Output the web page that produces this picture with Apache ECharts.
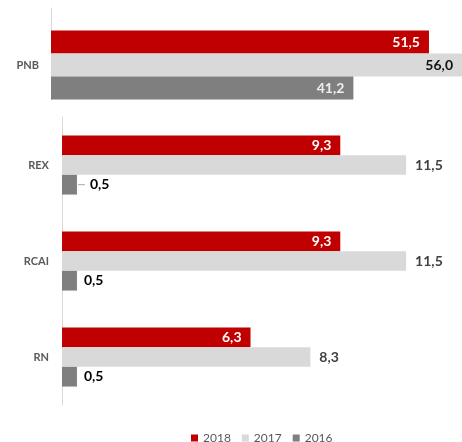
<!DOCTYPE html>
<html>
<head>
<meta charset="utf-8">
<script src="https://cdn.jsdelivr.net/npm/echarts@6/dist/echarts.min.js"></script>
<style>
html,body{margin:0;padding:0;background:#fff;}
#chart{width:462px;height:442px;}
</style>
</head>
<body>
<div id="chart"></div>
<script>
var years = ['2018', '2017', '2016'];
var topCategories = ['PNB'];
var topValues2018 = [51.5];
var topValues2017 = [56.0];
var topValues2016 = [41.2];
var bottomCategories = ['REX', 'RCAI', 'RN'];
var bottomValues2018 = [9.3, 9.3, 6.3];
var bottomValues2017 = [11.5, 11.5, 8.3];
var bottomValues2016 = [0.5, 0.5, 0.5];

var colors = ['#C00000', '#D9D9D9', '#7F7F7F'];
var FONT = 'Lato, "Open Sans", sans-serif';

function fmt(v) { return v.toFixed(1).replace('.', ','); }

var chart = echarts.init(document.getElementById('chart'), null, {renderer: 'canvas'});

function lbl(pos, color, dist, extra) {
  var o = {
    show: true, position: pos, distance: dist, color: color,
    fontFamily: FONT, fontWeight: 'bold', fontSize: 14,
    formatter: function (p) { return fmt(p.value); }
  };
  if (extra) for (var k in extra) o[k] = extra[k];
  return o;
}

// the first 2016 value (REX) gets a leader line before its label
var bottomData2016 = bottomValues2016.map(function (v, i) {
  return i === 0 ? {value: v, label: {distance: 1}} : v;
});

var option = {
  animation: false,
  backgroundColor: '#fff',
  color: colors,
  legend: {
    data: years,
    left: 186, top: 427,
    itemWidth: 7, itemHeight: 7, itemGap: 11,
    icon: 'rect',
    textStyle: {color: '#595959', fontSize: 12, fontFamily: FONT}
  },
  grid: [
    {left: 51, top: 8, width: 415, height: 114},
    {left: 62, top: 117, width: 389, height: 288},
    {left: 51, top: 8, width: 100, height: 92}
  ],
  xAxis: [
    {gridIndex: 0, type: 'value', min: 0, max: 56, show: false},
    {gridIndex: 1, type: 'value', min: 0, max: 13, show: false},
    {gridIndex: 2, type: 'value', min: 0, max: 1, show: false}
  ],
  yAxis: [
    {gridIndex: 0, type: 'category', data: topCategories, inverse: true,
     axisLine: {show: false}, axisTick: {show: false},
     axisLabel: {color: '#595959', fontSize: 11, fontWeight: 'bold', fontFamily: FONT, margin: 12}},
    {gridIndex: 1, type: 'category', data: bottomCategories, inverse: true,
     axisLine: {show: true, lineStyle: {color: '#D9D9D9', width: 1}}, axisTick: {show: false},
     axisLabel: {color: '#595959', fontSize: 11, fontWeight: 'bold', fontFamily: FONT, margin: 13}},
    {gridIndex: 2, type: 'value', min: 0, max: 1,
     axisLine: {show: true, lineStyle: {color: '#D9D9D9', width: 1}}, axisTick: {show: false},
     axisLabel: {show: false}, splitLine: {show: false}}
  ],
  series: [
    {name: '2018', type: 'bar', xAxisIndex: 0, yAxisIndex: 0, data: topValues2018,
     barWidth: 23, barGap: '0%', itemStyle: {color: colors[0]},
     label: lbl('insideRight', '#ffffff', 9)},
    {name: '2017', type: 'bar', xAxisIndex: 0, yAxisIndex: 0, data: topValues2017,
     barWidth: 23, barGap: '0%', itemStyle: {color: colors[1]},
     label: lbl('insideRight', '#111111', 9)},
    {name: '2016', type: 'bar', xAxisIndex: 0, yAxisIndex: 0, data: topValues2016,
     barWidth: 23, barGap: '0%', itemStyle: {color: colors[2]},
     label: lbl('insideRight', '#eeeeee', 9)},
    {name: '2018', type: 'bar', xAxisIndex: 1, yAxisIndex: 1, data: bottomValues2018,
     barWidth: 19.7, barGap: '0%', itemStyle: {color: colors[0]},
     label: lbl('insideRight', '#ffffff', 9)},
    {name: '2017', type: 'bar', xAxisIndex: 1, yAxisIndex: 1, data: bottomValues2017,
     barWidth: 19.7, barGap: '0%', itemStyle: {color: colors[1]},
     label: lbl('right', '#404040', 9)},
    {name: '2016', type: 'bar', xAxisIndex: 1, yAxisIndex: 1, data: bottomData2016,
     barWidth: 19.7, barGap: '0%', itemStyle: {color: colors[2]},
     label: lbl('right', '#000000', 7, {
       formatter: function (p) {
         if (p.dataIndex === 0) return '{l|}{g|}{v|' + fmt(p.value) + '}';
         return '{v|' + fmt(p.value) + '}';
       },
       rich: {
         l: {width: 7, height: 1, backgroundColor: '#A6A6A6'},
         g: {width: 5, height: 1},
         v: {color: '#000000', fontFamily: FONT, fontWeight: 'bold', fontSize: 14}
       }
     })}
  ]
};
chart.setOption(option);
</script>
</body>
</html>
